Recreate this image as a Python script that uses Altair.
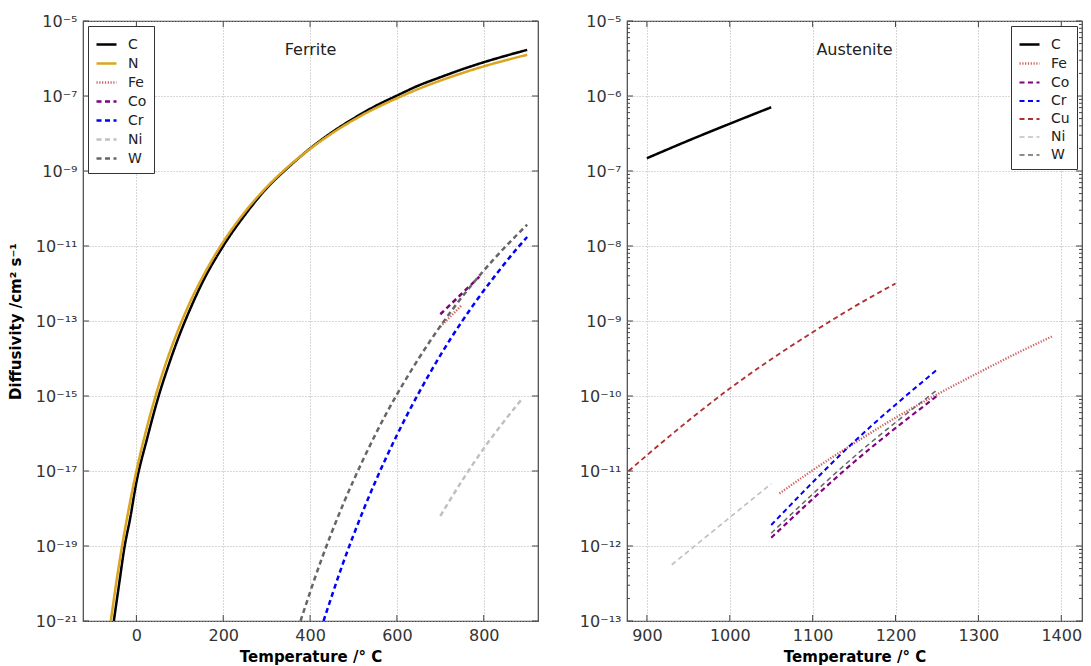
import altair as alt
import pandas as pd

# ---------------- Ferrite panel (temperature in C, log10 of diffusivity) ----------------
fer_C_T = [-52, -40, -27, -15, 0, 25, 50, 75, 100, 125, 150, 200, 250, 300, 350, 400, 450, 500, 550, 600, 650, 700, 750, 800, 850, 900]
fer_C_log = [-21.0, -20.03, -19.0, -18.3, -17.3, -16.12, -15.05, -14.15, -13.35, -12.65, -12.02, -11.0, -10.17, -9.46, -8.9, -8.4, -7.97, -7.6, -7.27, -6.99, -6.72, -6.5, -6.29, -6.1, -5.93, -5.77]
fer_N_T = [-59, -45, -33, -15, 0, 25, 50, 75, 100, 125, 150, 200, 250, 300, 350, 400, 450, 500, 550, 600, 650, 700, 750, 800, 850, 900]
fer_N_log = [-21.0, -19.87, -19.0, -17.85, -17.0, -15.8, -14.77, -13.89, -13.13, -12.46, -11.88, -10.89, -10.09, -9.43, -8.88, -8.41, -8.0, -7.64, -7.33, -7.06, -6.81, -6.59, -6.39, -6.21, -6.05, -5.9]
fer_Fe_T = [700, 725, 750]
fer_Fe_log = [-13.15, -12.86, -12.57]
fer_Co_T = [700, 745, 790]
fer_Co_log = [-12.82, -12.32, -11.82]
fer_Cr_T = [431, 475, 525, 575, 625, 675, 725, 775, 825, 875, 900]
fer_Cr_log = [-21.0, -19.49, -17.98, -16.65, -15.47, -14.41, -13.45, -12.59, -11.81, -11.09, -10.76]
fer_Ni_T = [700, 750, 800, 850, 890]
fer_Ni_log = [-18.2, -17.26, -16.4, -15.63, -15.05]
fer_W_T = [378, 425, 475, 525, 575, 625, 675, 725, 775, 825, 875, 900]
fer_W_log = [-21.0, -19.4, -17.92, -16.63, -15.48, -14.47, -13.56, -12.74, -12.0, -11.33, -10.72, -10.43]

# ---------------- Austenite panel ----------------
aus_C_T = [900, 950, 1000, 1050]
aus_C_log = [-6.83, -6.595, -6.37, -6.15]
aus_Fe_T = [1060, 1100, 1150, 1200, 1250, 1300, 1350, 1390]
aus_Fe_log = [-11.30, -10.99, -10.63, -10.29, -9.98, -9.69, -9.41, -9.2]
aus_Co_T = [1050, 1150, 1250]
aus_Co_log = [-11.89, -10.88, -10.0]
aus_Cr_T = [1050, 1150, 1250]
aus_Cr_log = [-11.72, -10.61, -9.65]
aus_Cu_T = [878, 900, 950, 1000, 1050, 1100, 1150, 1200]
aus_Cu_log = [-11.0, -10.79, -10.33, -9.9, -9.51, -9.15, -8.81, -8.5]
aus_Ni_T = [930, 990, 1050]
aus_Ni_log = [-12.25, -11.71, -11.17]
aus_W_T = [1050, 1150, 1250]
aus_W_log = [-11.83, -10.81, -9.92]

fer_elems = ["C", "N", "Fe", "Co", "Cr", "Ni", "W"]
aus_elems = ["C", "Fe", "Co", "Cr", "Cu", "Ni", "W"]

# axis tick values
fer_xticks = [0, 200, 400, 600, 800]
aus_xticks = [900, 1000, 1100, 1200, 1300, 1400]
fer_yexp = [-5, -7, -9, -11, -13, -15, -17, -19, -21]
aus_yexp = [-5, -6, -7, -8, -9, -10, -11, -12, -13]
aus_minor_mult = [2, 3, 4, 5, 6, 7, 8, 9]

colors = {"C": "#000000", "N": "#DAA520", "Fe": "#CD5C5C", "Co": "#800080",
          "Cr": "#0000FF", "Cu": "#B03030", "Ni": "#C0C0C0", "W": "#666666"}
dashes = {"C": [1, 0], "N": [1, 0], "Fe": [1.2, 1.6], "Co": [5, 3.5], "Cr": [5, 3.5],
          "Cu": [5, 3.5], "Ni": [5, 3.5], "W": [5, 3.5]}
widths = {"C": 2.5, "N": 2.5, "Fe": 1.5, "Co": 3, "Cr": 3, "Cu": 3, "Ni": 3, "W": 3}

fer_series = {"C": (fer_C_T, fer_C_log), "N": (fer_N_T, fer_N_log), "Fe": (fer_Fe_T, fer_Fe_log),
              "Co": (fer_Co_T, fer_Co_log), "Cr": (fer_Cr_T, fer_Cr_log), "Ni": (fer_Ni_T, fer_Ni_log),
              "W": (fer_W_T, fer_W_log)}
aus_series = {"C": (aus_C_T, aus_C_log), "Fe": (aus_Fe_T, aus_Fe_log), "Co": (aus_Co_T, aus_Co_log),
              "Cr": (aus_Cr_T, aus_Cr_log), "Cu": (aus_Cu_T, aus_Cu_log), "Ni": (aus_Ni_T, aus_Ni_log),
              "W": (aus_W_T, aus_W_log)}


def frame(series):
    rows = []
    for el, (ts, ls) in series.items():
        for j, (t, l) in enumerate(zip(ts, ls)):
            rows.append({"elem": el, "T": t, "D": 10.0 ** l, "o": j})
    return pd.DataFrame(rows)


SUP = "⁰¹²³⁴⁵⁶⁷⁸⁹"
E = "abs(round(log(datum.value)/LN10))"
label_expr = ("'10⁻' + (" + E + " >= 10 ? substring('" + SUP + "', floor(" + E + "/10), floor(" + E + "/10)+1) : '') + "
              "substring('" + SUP + "', " + E + "%10, " + E + "%10+1)")

FONT = "DejaVu Sans"
W, H = 455, 600
TICK = "#444444"


def panel(series, elems, xdom, xticks, ydom, yexp, minor, name, ytitle, legend_orient):
    df = frame(series)
    xs = alt.Scale(domain=xdom, nice=False, zero=False)
    ys = alt.Scale(type="log", domain=ydom, nice=False)
    yvals = [10.0 ** e for e in yexp]
    leg = alt.Legend(title=None, orient=legend_orient, offset=5, padding=7,
                     strokeColor="#333333", fillColor="white", symbolType="stroke",
                     symbolSize=400, labelFontSize=14, labelFont=FONT,
                     labelColor="#222222", labelOffset=10, rowPadding=0, cornerRadius=0,
                     labelLimit=60)
    xax = alt.Axis(values=xticks, format="d", title="Temperature /° C", grid=True,
                   gridDash=[1, 2], gridColor="#b0b0b0", ticks=False, domain=False,
                   labelFont=FONT, labelFontSize=16, labelColor="#333333", labelPadding=6,
                   titleFont=FONT, titleFontSize=15, titleFontWeight="bold", titleColor="#000000",
                   titlePadding=6)
    yax = alt.Axis(values=yvals, labelExpr=label_expr, title=ytitle, grid=True,
                   gridDash=[1, 2], gridColor="#b0b0b0", ticks=False, domain=False,
                   labelFont=FONT, labelFontSize=16, labelColor="#333333", labelPadding=6,
                   titleFont=FONT, titleFontSize=15, titleFontWeight="bold", titleColor="#000000",
                   titlePadding=12)
    lines = alt.Chart(df).mark_line(clip=True, interpolate="monotone").encode(
        x=alt.X("T:Q", scale=xs, axis=xax),
        y=alt.Y("D:Q", scale=ys, axis=yax),
        order="o:Q",
        color=alt.Color("elem:N", scale=alt.Scale(domain=elems, range=[colors[e] for e in elems]), legend=leg),
        strokeDash=alt.StrokeDash("elem:N", scale=alt.Scale(domain=elems, range=[dashes[e] for e in elems]), legend=leg),
        strokeWidth=alt.StrokeWidth("elem:O", scale=alt.Scale(domain=elems, range=[widths[e] for e in elems]), legend=leg),
    )
    layers = []
    # inward tick marks on all four sides
    ytk = pd.DataFrame({"D": yvals})
    xtk = pd.DataFrame({"T": xticks})
    for a, b in ((0, 6), (W - 6, W)):
        layers.append(alt.Chart(ytk).mark_rule(color=TICK, strokeWidth=1).encode(
            y=alt.Y("D:Q", scale=ys, axis=yax), x=alt.value(a), x2=alt.value(b)))
    for a, b in ((H, H - 6), (0, 6)):
        layers.append(alt.Chart(xtk).mark_rule(color=TICK, strokeWidth=1).encode(
            x=alt.X("T:Q", scale=xs, axis=xax), y=alt.value(a), y2=alt.value(b)))
    if minor:
        mtk = pd.DataFrame({"D": [m * 10.0 ** e for e in yexp[1:] for m in minor]})
        for a, b in ((0, 3), (W - 3, W)):
            layers.append(alt.Chart(mtk).mark_rule(color=TICK, strokeWidth=1).encode(
                y=alt.Y("D:Q", scale=ys, axis=yax), x=alt.value(a), x2=alt.value(b)))
    label = alt.Chart(pd.DataFrame({"name": [name]})).mark_text(
        font=FONT, fontSize=16, color="#222222", baseline="middle", align="center"
    ).encode(x=alt.value(W / 2), y=alt.value(29), text="name:N")
    return alt.layer(lines, *layers, label).properties(width=W, height=H)


left = panel(fer_series, fer_elems, [-123, 925], fer_xticks, [1e-21, 1e-5], fer_yexp, None,
             "Ferrite", "Diffusivity /cm² s⁻¹", "top-left")
right = panel(aus_series, aus_elems, [876, 1425], aus_xticks, [1e-13, 1e-5], aus_yexp, aus_minor_mult,
              "Austenite", None, "top-right")

chart = alt.hconcat(left, right, spacing=38).resolve_scale(
    color="independent", strokeDash="independent", strokeWidth="independent",
    x="independent", y="independent"
).resolve_legend(color="independent", strokeDash="independent", strokeWidth="independent").properties(
    padding={"left": 7, "top": 12, "right": 5, "bottom": 5}, background="white"
).configure_view(stroke="#444444", strokeWidth=1.2)

chart.save("out.html", embed_options={"renderer": "svg", "actions": False})
